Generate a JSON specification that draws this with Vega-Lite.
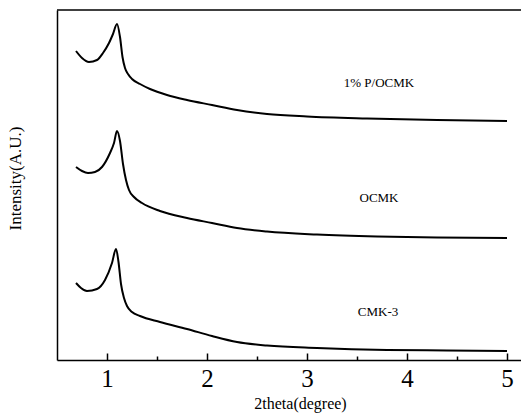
{
  "$schema": "https://vega.github.io/schema/vega-lite/v6.json",
  "width": 464,
  "height": 350,
  "autosize": {"type": "none"},
  "padding": {"left": 57, "top": 10, "right": 0, "bottom": 54},
  "config": {"view": {"stroke": null}, "font": "Liberation Serif"},
  "layer": [
    {
      "data": {"values": [
        {"sample": "1% P/OCMK", "theta": 0.69, "intensity": 309},
        {"sample": "1% P/OCMK", "theta": 0.75, "intensity": 302},
        {"sample": "1% P/OCMK", "theta": 0.82, "intensity": 298},
        {"sample": "1% P/OCMK", "theta": 0.90, "intensity": 300},
        {"sample": "1% P/OCMK", "theta": 0.96, "intensity": 307},
        {"sample": "1% P/OCMK", "theta": 1.02, "intensity": 317},
        {"sample": "1% P/OCMK", "theta": 1.06, "intensity": 326},
        {"sample": "1% P/OCMK", "theta": 1.10, "intensity": 336},
        {"sample": "1% P/OCMK", "theta": 1.13, "intensity": 323},
        {"sample": "1% P/OCMK", "theta": 1.155, "intensity": 303},
        {"sample": "1% P/OCMK", "theta": 1.18, "intensity": 292},
        {"sample": "1% P/OCMK", "theta": 1.21, "intensity": 286},
        {"sample": "1% P/OCMK", "theta": 1.25, "intensity": 281},
        {"sample": "1% P/OCMK", "theta": 1.33, "intensity": 276},
        {"sample": "1% P/OCMK", "theta": 1.43, "intensity": 271},
        {"sample": "1% P/OCMK", "theta": 1.60, "intensity": 265},
        {"sample": "1% P/OCMK", "theta": 1.80, "intensity": 260},
        {"sample": "1% P/OCMK", "theta": 2.05, "intensity": 255},
        {"sample": "1% P/OCMK", "theta": 2.30, "intensity": 250},
        {"sample": "1% P/OCMK", "theta": 2.60, "intensity": 246},
        {"sample": "1% P/OCMK", "theta": 3.00, "intensity": 243.5},
        {"sample": "1% P/OCMK", "theta": 3.60, "intensity": 241.5},
        {"sample": "1% P/OCMK", "theta": 4.30, "intensity": 240},
        {"sample": "1% P/OCMK", "theta": 5.00, "intensity": 239},
        {"sample": "OCMK", "theta": 0.69, "intensity": 193},
        {"sample": "OCMK", "theta": 0.75, "intensity": 189},
        {"sample": "OCMK", "theta": 0.81, "intensity": 187},
        {"sample": "OCMK", "theta": 0.88, "intensity": 188},
        {"sample": "OCMK", "theta": 0.95, "intensity": 193},
        {"sample": "OCMK", "theta": 1.03, "intensity": 207},
        {"sample": "OCMK", "theta": 1.07, "intensity": 217},
        {"sample": "OCMK", "theta": 1.10, "intensity": 229},
        {"sample": "OCMK", "theta": 1.13, "intensity": 219},
        {"sample": "OCMK", "theta": 1.16, "intensity": 196},
        {"sample": "OCMK", "theta": 1.19, "intensity": 180},
        {"sample": "OCMK", "theta": 1.22, "intensity": 170},
        {"sample": "OCMK", "theta": 1.27, "intensity": 163},
        {"sample": "OCMK", "theta": 1.35, "intensity": 157},
        {"sample": "OCMK", "theta": 1.53, "intensity": 149},
        {"sample": "OCMK", "theta": 1.80, "intensity": 142},
        {"sample": "OCMK", "theta": 2.05, "intensity": 137},
        {"sample": "OCMK", "theta": 2.30, "intensity": 132},
        {"sample": "OCMK", "theta": 2.60, "intensity": 128.5},
        {"sample": "OCMK", "theta": 3.10, "intensity": 125.5},
        {"sample": "OCMK", "theta": 3.70, "intensity": 123.5},
        {"sample": "OCMK", "theta": 4.30, "intensity": 122.5},
        {"sample": "OCMK", "theta": 5.00, "intensity": 122},
        {"sample": "CMK-3", "theta": 0.69, "intensity": 77},
        {"sample": "CMK-3", "theta": 0.74, "intensity": 72},
        {"sample": "CMK-3", "theta": 0.80, "intensity": 69},
        {"sample": "CMK-3", "theta": 0.90, "intensity": 71},
        {"sample": "CMK-3", "theta": 0.98, "intensity": 80},
        {"sample": "CMK-3", "theta": 1.05, "intensity": 97},
        {"sample": "CMK-3", "theta": 1.09, "intensity": 111},
        {"sample": "CMK-3", "theta": 1.115, "intensity": 98},
        {"sample": "CMK-3", "theta": 1.14, "intensity": 76},
        {"sample": "CMK-3", "theta": 1.17, "intensity": 62},
        {"sample": "CMK-3", "theta": 1.20, "intensity": 54},
        {"sample": "CMK-3", "theta": 1.25, "intensity": 48},
        {"sample": "CMK-3", "theta": 1.33, "intensity": 44},
        {"sample": "CMK-3", "theta": 1.53, "intensity": 38},
        {"sample": "CMK-3", "theta": 1.80, "intensity": 31},
        {"sample": "CMK-3", "theta": 2.05, "intensity": 24},
        {"sample": "CMK-3", "theta": 2.30, "intensity": 18},
        {"sample": "CMK-3", "theta": 2.60, "intensity": 14.5},
        {"sample": "CMK-3", "theta": 3.10, "intensity": 12},
        {"sample": "CMK-3", "theta": 3.80, "intensity": 10},
        {"sample": "CMK-3", "theta": 4.40, "intensity": 9.5},
        {"sample": "CMK-3", "theta": 5.00, "intensity": 9}
      ]},
      "mark": {"type": "line", "color": "black", "strokeWidth": 2, "interpolate": "monotone"},
      "encoding": {
        "x": {
          "field": "theta", "type": "quantitative",
          "scale": {"domain": [0.5, 5.14], "nice": false, "zero": false},
          "axis": {
            "values": [1, 1.5, 2, 2.5, 3, 3.5, 4, 4.5, 5],
            "tickSize": {"condition": {"test": "datum.value % 1 === 0", "value": -7}, "value": -4},
            "labelExpr": "datum.value % 1 === 0 ? format(datum.value, 'd') : ''",
            "labelFont": "Liberation Serif", "labelFontSize": 25, "labelColor": "black",
            "labelPadding": 13,
            "tickColor": "black", "tickWidth": 1.5,
            "domainColor": "black", "domainWidth": 1.5,
            "grid": false,
            "title": "2theta(degree)", "titleFont": "Liberation Serif", "titleFontSize": 16,
            "titleFontWeight": "normal", "titleColor": "black", "titlePadding": 4,
            "titleX": 243
          }
        },
        "y": {
          "field": "intensity", "type": "quantitative",
          "scale": {"domain": [0, 350], "nice": false},
          "axis": {
            "ticks": false, "labels": false, "grid": false,
            "domainColor": "black", "domainWidth": 1.5,
            "title": "Intensity(A.U.)", "titleFont": "Liberation Serif", "titleFontSize": 17,
            "titleFontWeight": "normal", "titleColor": "black", "titlePadding": 33,
            "titleY": 168
          }
        },
        "detail": {"field": "sample"}
      }
    },
    {
      "data": {"values": [{"top": 350}]},
      "mark": {"type": "rule", "color": "black", "strokeWidth": 1.5},
      "encoding": {"y": {"field": "top", "type": "quantitative"}}
    },
    {
      "data": {"values": [
        {"theta": 3.72, "intensity": 277, "label": "1% P/OCMK"},
        {"theta": 3.72, "intensity": 162, "label": "OCMK"},
        {"theta": 3.71, "intensity": 48, "label": "CMK-3"}
      ]},
      "mark": {"type": "text", "font": "Liberation Serif", "fontSize": 13, "color": "black"},
      "encoding": {
        "x": {"field": "theta", "type": "quantitative"},
        "y": {"field": "intensity", "type": "quantitative"},
        "text": {"field": "label"}
      }
    }
  ]
}
